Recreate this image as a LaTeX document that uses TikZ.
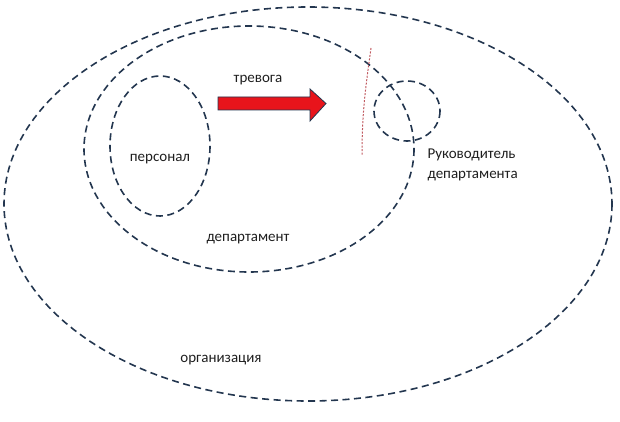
\documentclass[tikz,border=0pt]{standalone}
\usepackage{fontspec}
\setmainfont{Carlito}
\usepackage{xcolor}
\usetikzlibrary{positioning}
\definecolor{zonecol}{HTML}{23364F}
\definecolor{alarmred}{HTML}{E8141B}
\definecolor{cutcol}{HTML}{C0585E}

\begin{document}
\begin{tikzpicture}[x=1pt,y=-1pt,
		zone/.style={draw=zonecol,line width=1.6pt,dash pattern=on 7pt off 4.5pt},
		lbl/.style={font=\fontsize{15}{20}\selectfont,text=black!88}]
		\useasboundingbox (0,0) rectangle (620,422);
		% organisation, department, staff, head
		\draw[zone] (308,204) ellipse [x radius=304,y radius=197];
		\draw[zone] (249,149) ellipse [x radius=165,y radius=123];
		\draw[zone] (160,146) ellipse [x radius=50,y radius=70];
		\draw[zone] (407,111) ellipse [x radius=33,y radius=30];
		% boundary cut
		\draw[cutcol,line width=1pt,dash pattern=on 2pt off 1.5pt] (371,48) .. controls (366,85) and (362,110) .. (362,155);
		% alarm arrow
		\draw[fill=alarmred,draw=zonecol,line width=0.8pt] (218,97) -- (310,97) -- (310,89) -- (326,103.5) -- (310,121) -- (310,110) -- (218,110) -- cycle;
		\node[lbl] (alarm) at (258,80) {тревога};
		\node[lbl] (staff) at (160,159) {персонал};
		\node[lbl] (dept) at (248,239) {департамент};
		\node[lbl] (org) at (221,360) {организация};
		\node[lbl,align=left,anchor=west] (head) at (424,165) {Руководитель\\департамента};
		\end{tikzpicture}
\end{document}
